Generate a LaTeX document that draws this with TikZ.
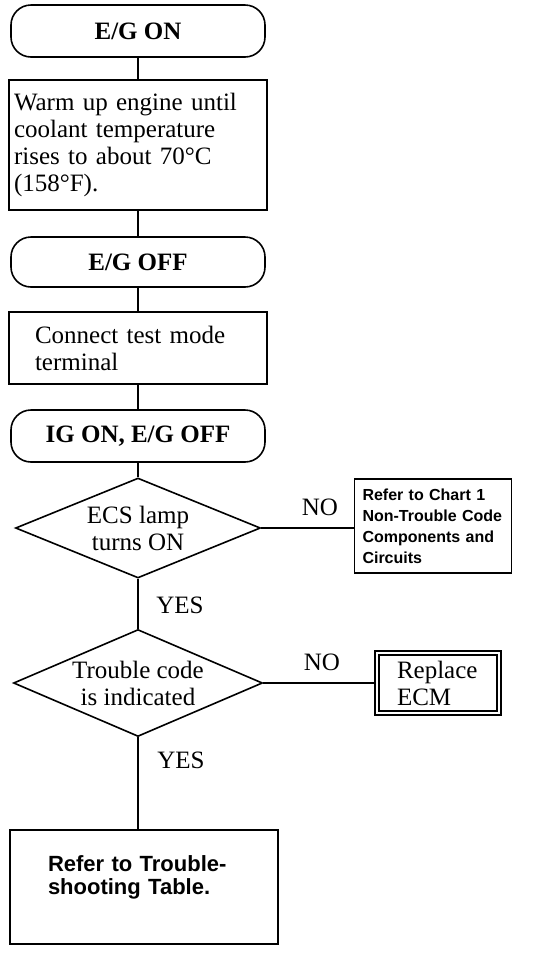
\documentclass[tikz,border=0pt]{standalone}
\usepackage{fontspec}
\setmainfont{Liberation Serif}
\newfontfamily\chartsans{Liberation Sans}
\usetikzlibrary{shapes.geometric, positioning}

\tikzset{
  flow/.style={line width=1.6pt},
  terminal/.style={draw, flow, rounded corners=20pt, minimum width=254pt, minimum height=52pt,
    inner sep=0pt, font=\fontsize{25}{27}\selectfont\bfseries},
  stepbox/.style={draw, flow, align=left, inner ysep=0pt, font=\fontsize{25}{27}\selectfont},
  decision/.style={draw, flow, diamond, inner sep=0pt},
  dtext/.style={align=center, font=\fontsize{25}{27}\selectfont},
  notebox/.style={draw, flow, align=left, inner ysep=0pt, font=\chartsans\bfseries\fontsize{16}{21}\selectfont},
  answer/.style={font=\fontsize{25}{26}\selectfont}
}

\begin{document}
\begin{tikzpicture}[x=1pt, y=-1pt]
  \useasboundingbox (0,0) rectangle (544,954);

  % start-up sequence
  \node[terminal] (egon) at (138,31) {E/G ON};
  \node[stepbox, text width=248pt, inner xsep=5pt, minimum height=130pt] (warm) at (138,145)
    {Warm up engine until\\coolant temperature\\rises to about 70°C\\(158°F).};
  \node[terminal, minimum height=50pt] (egoff) at (138,262) {E/G OFF};
  \node[stepbox, text width=206pt, inner xsep=26pt, minimum height=72pt] (conn) at (138,348)
    {Connect test mode\\terminal};
  \node[terminal] (igon) at (138,436) {IG ON, E/G OFF};

  \draw[flow] (egon) -- (warm);
  \draw[flow] (warm) -- (egoff);
  \draw[flow] (egoff) -- (conn);
  \draw[flow] (conn) -- (igon);

  % first check
  \node[decision, minimum width=245pt, minimum height=100pt] (lamp) at (138,528) {};
  \node[dtext] at (lamp) {ECS lamp\\turns ON};
  \node[notebox, text width=141pt, inner xsep=8pt, minimum height=94pt] (chart) at (433,526)
    {Refer to Chart 1\\Non-Trouble Code\\Components and\\Circuits};
  \draw[flow] (igon) -- (lamp);
  \draw[flow] (lamp.east) -- (lamp.east -| chart.west);
  \node[answer] (no1) at (320,507) {NO};

  % second check
  \node[decision, minimum width=249pt, minimum height=107pt] (code) at (138,683) {};
  \node[dtext] at (code) {Trouble code\\is indicated};
  \node[stepbox, double, double distance=2.5pt, line width=1.4pt, text width=82pt, inner xsep=20pt,
    minimum height=60pt] (ecm) at (438,683) {Replace\\ECM};
  \draw[flow] (lamp) -- (code);
  \node[answer] (yes1) at (180,605) {YES};
  \draw[flow] (code.east) -- (ecm.west);
  \node[answer] (no2) at (322,662) {NO};

  % trouble code found
  \node[notebox, text width=192pt, inner xsep=38pt, minimum height=114pt,
    font=\chartsans\bfseries\fontsize{22}{23}\selectfont] (table) at (144,887)
    {Refer to Trouble-\\shooting Table.\\[0pt]\mbox{}};
  \draw[flow] (code.south) -- (code.south |- table.north);
  \node[answer] (yes2) at (181,760) {YES};
\end{tikzpicture}
\end{document}
